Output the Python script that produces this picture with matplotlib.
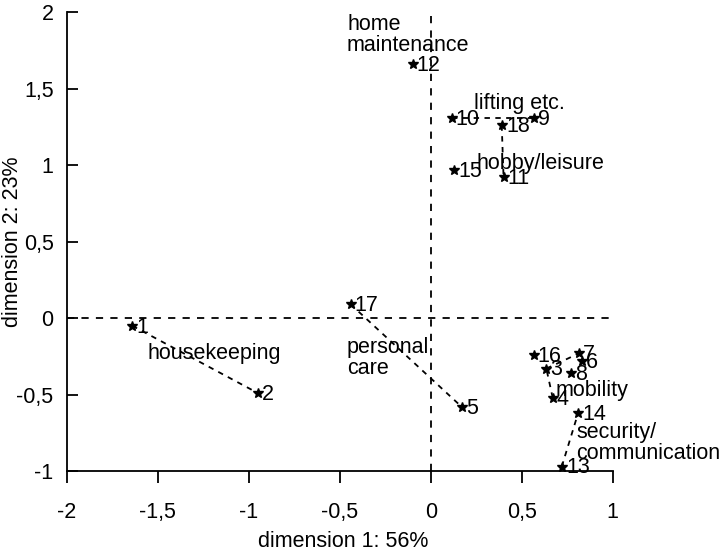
import matplotlib.pyplot as plt

plt.rcParams['font.family'] = ['Liberation Sans', 'DejaVu Sans']

# item coordinates
item_ids = ['1', '2', '3', '4', '5', '6', '7', '8', '9', '10',
            '11', '12', '13', '14', '15', '16', '17', '18']
dim1 = [-1.64, -0.95, 0.635, 0.67, 0.17, 0.83, 0.815, 0.77, 0.565, 0.115,
        0.40, -0.10, 0.72, 0.81, 0.13, 0.565, -0.44, 0.39]
dim2 = [-0.05, -0.49, -0.33, -0.52, -0.58, -0.28, -0.23, -0.36, 1.31, 1.31,
        0.92, 1.66, -0.97, -0.62, 0.97, -0.24, 0.09, 1.26]

# pairs of items joined by dashed lines
links = [('1', '2'), ('17', '5'), ('10', '9'), ('18', '11'),
         ('3', '7'), ('4', '3'), ('13', '14')]

# cluster names
group_names = ['home\nmaintenance', 'lifting etc.', 'hobby/leisure', 'housekeeping',
               'personal\ncare', 'mobility', 'security/\ncommunication']
group_x = [-0.46, 0.235, 0.25, -1.555, -0.46, 0.685, 0.80]
group_y = [1.99, 1.47, 1.08, -0.165, -0.125, -0.405, -0.68]

x_ticks = [-2, -1.5, -1, -0.5, 0, 0.5, 1]
y_ticks = [-1, -0.5, 0, 0.5, 1, 1.5, 2]

FS = 15.5

fig = plt.figure(figsize=(7.26, 5.51), dpi=100)
ax = fig.add_axes([0.092, 0.145, 0.752, 0.833])

# quadrant lines
ax.plot([-2, 1], [0, 0], color='black', linestyle=(0, (4, 4)), lw=1.3)
ax.plot([0, 0], [-1, 2], color='black', linestyle=(0, (4, 4)), lw=1.3)

pos = {k: (x, y) for k, x, y in zip(item_ids, dim1, dim2)}
for a, b in links:
    ax.plot([pos[a][0], pos[b][0]], [pos[a][1], pos[b][1]],
            color='black', linestyle=(0, (3, 3)), lw=1.3)

ax.plot(dim1, dim2, linestyle='none', marker='*', color='black', markersize=7)
for k, x, y in zip(item_ids, dim1, dim2):
    ax.annotate(k, (x, y), xytext=(3, -1), textcoords='offset points',
                ha='left', va='center', fontsize=FS)

for name, x, y in zip(group_names, group_x, group_y):
    ax.text(x, y, name, ha='left', va='top', fontsize=FS, linespacing=1.0)

ax.set_xlim(-2, 1)
ax.set_ylim(-1, 2)
ax.set_xticks(x_ticks)
ax.set_yticks(y_ticks)
ax.set_xticklabels([('%g' % v).replace('.', ',') for v in x_ticks])
ax.set_yticklabels([('%g' % v).replace('.', ',') for v in y_ticks])
ax.tick_params(axis='x', direction='out', length=8.5, width=1.3, labelsize=FS, pad=14)
ax.tick_params(axis='y', direction='in', length=8, width=1.3, labelsize=FS, pad=9.5)
ax.spines['top'].set_visible(False)
ax.spines['right'].set_visible(False)
ax.spines['left'].set_linewidth(1.3)
ax.spines['bottom'].set_linewidth(1.3)

ax.set_xlabel('dimension 1: 56%', fontsize=FS, va='center')
ax.set_ylabel('dimension 2: 23%', fontsize=FS, va='center')
ax.xaxis.set_label_coords(0.507, -0.153)
ax.yaxis.set_label_coords(-0.10, 0.5)

fig.savefig('out.png', dpi=100)
